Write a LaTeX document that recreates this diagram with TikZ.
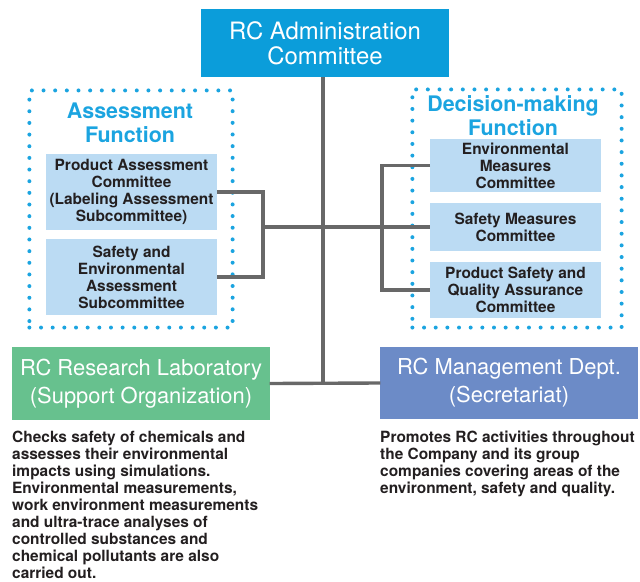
\documentclass[tikz,border=0pt]{standalone}
\usepackage{fontspec}
\setmainfont{TeX Gyre Heros}
\usepackage{tikz}

\definecolor{admincyan}{HTML}{0B9DDA}
\definecolor{dotcyan}{HTML}{1BA4E0}
\definecolor{paleblue}{HTML}{BBDBF3}
\definecolor{labgreen}{HTML}{67C18E}
\definecolor{mgmtblue}{HTML}{6C8BC7}
\definecolor{linegray}{HTML}{686868}
\definecolor{textdark}{HTML}{231F20}

\begin{document}
\begin{tikzpicture}[
        x=1bp, y=-1bp,
        every node/.style = {inner sep=0pt, align=center},
        headbox/.style = {fill=#1, text=white, font=\fontsize{22}{28}\selectfont},
        title/.style = {text=dotcyan, font=\bfseries\fontsize{21.5}{24}\selectfont},
        member/.style = {fill=paleblue, text=textdark, minimum width=171,
                         font=\bfseries\fontsize{15.5}{17}\selectfont},
        dotframe/.style = {draw=dotcyan, line width=4, line cap=round,
                           dash pattern=on 0pt off 11.7pt},
        note/.style = {anchor=north west, align=left, text=textdark,
                       font=\bfseries\fontsize{15.5}{17}\selectfont},
        link/.style = {draw=linegray, line width=3.4},
      ]

      \useasboundingbox (0,0) rectangle (640,582);

      \node[dotframe, minimum width=204, minimum height=238] (assessframe) at (131,209) {};
      \node[dotframe, minimum width=210, minimum height=239] (decideframe) at (517,208.5) {};

      \node[headbox=admincyan, minimum width=248, minimum height=68,
            font=\fontsize{24}{25}\selectfont] (admin) at (325,43) {RC Administration\\Committee};

      \node[title] (assess) at (130,123) {Assessment\\Function};
      \node[title] (decide) at (513,115.5) {Decision-making\\Function};

      \node[member, minimum height=76] (prodassess) at (131.5,192)
        {Product Assessment\\Committee\\(Labeling Assessment\\Subcommittee)};
      \node[member, minimum height=76] (safeenv) at (131.5,277)
        {Safety and\\Environmental\\Assessment\\Subcommittee};

      \node[member, minimum height=53] (envmeas) at (515.5,165.5)
        {Environmental\\Measures\\Committee};
      \node[member, minimum height=48] (safemeas) at (515.5,227)
        {Safety Measures\\Committee};
      \node[member, minimum height=56] (prodsafe) at (515.5,290)
        {Product Safety and\\Quality Assurance\\Committee};

      \node[headbox=labgreen, minimum width=258, minimum height=73] (lab) at (141,383.5)
        {RC Research Laboratory\\(Support Organization)};
      \node[headbox=mgmtblue, minimum width=258, minimum height=72] (mgmt) at (509,383)
        {RC Management Dept.\\(Secretariat)};

      \node[note] (labnote) at (12,431)
        {Checks safety of chemicals and\\assesses their environmental\\impacts using simulations.\\
         Environmental measurements,\\work environment measurements\\and ultra-trace analyses of\\
         controlled substances and\\chemical pollutants are also\\carried out.};
      \node[note] (mgmtnote) at (380,431)
        {Promotes RC activities throughout\\the Company and its group\\
         companies covering areas of the\\environment, safety and quality.};

      \coordinate (trunk) at (323,383);
      \draw[link] (admin.south -| trunk) -- (trunk);
      \draw[link] (lab.east) -- (mgmt.west);
      \draw[link] (prodassess.east) -- ++(46,0) coordinate (lbend) |- (safeenv.east);
      \draw[link] (lbend |- safemeas.west) -- (safemeas.west);
      \draw[link] (envmeas.west) -- ++(-48,0) |- (prodsafe.west);

    \end{tikzpicture}
\end{document}
